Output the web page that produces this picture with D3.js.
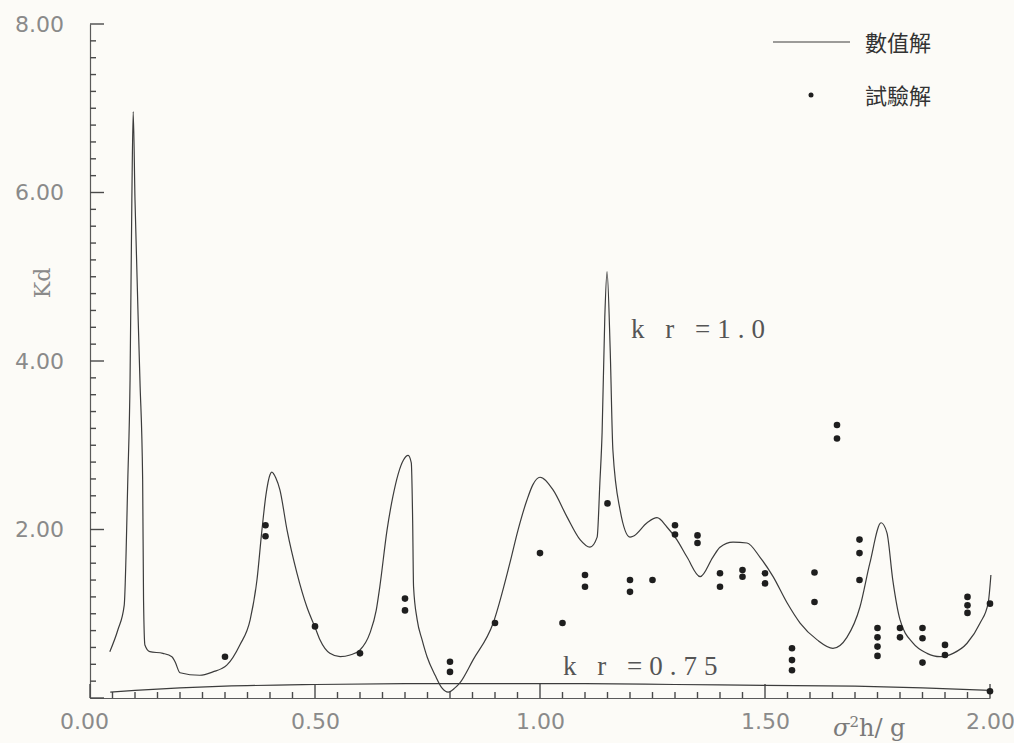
<!DOCTYPE html>
<html lang="zh-Hant">
<head>
    <meta charset="UTF-8">
    <title>Kd - σ²h/g</title>
    <script src="https://d3js.org/d3.v7.min.js"></script>
    <style>
        body {
            margin: 0;
            background: #fcfbf7;
            font-family: "DejaVu Sans", sans-serif;
        }
        .axis path, .axis line {
            stroke: #5a5a5a;
            stroke-width: 1.2;
        }
        .axis text {
            fill: #8a8a8a;
            font-size: 22px;
            font-family: "DejaVu Sans", sans-serif;
        }
        .curve {
            fill: none;
            stroke: #3c3c3c;
            stroke-width: 1.2;
        }
        .dot {
            fill: #1e1e1e;
        }
    </style>
</head>
<body>
    <svg width="1014" height="743"></svg>
    <script>
        // 數值解 k r = 1.0
        const kr1X = [0.044, 0.062, 0.076, 0.084, 0.089, 0.093, 0.096, 0.100, 0.111, 0.117, 0.119, 0.122, 0.133,
            0.162, 0.182, 0.189, 0.200, 0.244, 0.273, 0.304, 0.333, 0.356, 0.371, 0.382, 0.391, 0.400, 0.404,
            0.413, 0.422, 0.438, 0.460, 0.482, 0.500, 0.511, 0.533, 0.556, 0.578, 0.600, 0.622, 0.636, 0.644,
            0.660, 0.673, 0.696, 0.707, 0.714, 0.717, 0.719, 0.727, 0.738, 0.749, 0.767, 0.782, 0.796, 0.811,
            0.822, 0.851, 0.896, 0.933, 0.951, 0.971, 0.984, 1.000, 1.029, 1.060, 1.089, 1.111, 1.127, 1.133,
            1.138, 1.144, 1.149, 1.156, 1.162, 1.178, 1.200, 1.207, 1.238, 1.260, 1.282, 1.304, 1.327, 1.356,
            1.384, 1.400, 1.429, 1.460, 1.489, 1.518, 1.549, 1.578, 1.616, 1.651, 1.682, 1.711, 1.733, 1.758,
            1.771, 1.784, 1.800, 1.829, 1.860, 1.889, 1.918, 1.949, 1.978, 1.996, 2.002];
        const kr1Y = [0.55, 0.81, 1.10, 2.59, 3.77, 5.91, 6.96, 5.91, 3.77, 2.59, 1.16, 0.63, 0.55,
            0.53, 0.49, 0.43, 0.30, 0.27, 0.31, 0.39, 0.63, 0.93, 1.40, 1.99, 2.41, 2.65, 2.68,
            2.61, 2.47, 1.99, 1.48, 1.08, 0.84, 0.69, 0.53, 0.49, 0.51, 0.57, 0.77, 1.04, 1.32,
            1.99, 2.39, 2.82, 2.88, 2.79, 2.11, 1.32, 0.93, 0.69, 0.49, 0.27, 0.12, 0.07, 0.12,
            0.18, 0.45, 0.89, 1.60, 1.99, 2.35, 2.53, 2.62, 2.47, 2.15, 1.88, 1.79, 1.91, 2.55,
            3.15, 4.52, 5.06, 4.13, 2.94, 2.23, 1.91, 1.92, 2.08, 2.14, 2.03, 1.88, 1.67, 1.44,
            1.67, 1.79, 1.85, 1.84, 1.67, 1.44, 1.13, 0.89, 0.69, 0.59, 0.72, 1.08, 1.60, 2.08,
            1.96, 1.40, 0.93, 0.65, 0.53, 0.49, 0.53, 0.65, 0.89, 1.13, 1.46];

        // 數值解 k r = 0.75
        const kr075X = [0.045, 0.10, 0.20, 0.30, 0.50, 0.70, 0.90, 1.10, 1.30, 1.50, 1.70, 1.85, 2.00];
        const kr075Y = [0.07, 0.09, 0.12, 0.14, 0.16, 0.17, 0.17, 0.17, 0.16, 0.15, 0.14, 0.12, 0.09];

        // 試驗解
        const expX = [0.30, 0.39, 0.39, 0.50, 0.60, 0.70, 0.70, 0.80, 0.80, 0.90, 1.00, 1.05,
            1.10, 1.10, 1.15, 1.20, 1.20, 1.25, 1.30, 1.30, 1.35, 1.35, 1.40, 1.40, 1.45, 1.45,
            1.50, 1.50, 1.56, 1.56, 1.56, 1.61, 1.61, 1.66, 1.66, 1.71, 1.71, 1.71,
            1.75, 1.75, 1.75, 1.75, 1.80, 1.80, 1.85, 1.85, 1.85, 1.90, 1.90,
            1.95, 1.95, 1.95, 2.00, 2.00];
        const expY = [0.49, 2.05, 1.92, 0.85, 0.53, 1.18, 1.04, 0.43, 0.31, 0.89, 1.72, 0.89,
            1.46, 1.32, 2.31, 1.40, 1.26, 1.40, 2.05, 1.94, 1.93, 1.84, 1.48, 1.32, 1.52, 1.44,
            1.48, 1.36, 0.59, 0.45, 0.33, 1.49, 1.14, 3.24, 3.08, 1.88, 1.72, 1.40,
            0.83, 0.72, 0.61, 0.50, 0.83, 0.72, 0.83, 0.71, 0.42, 0.63, 0.51,
            1.20, 1.10, 1.01, 1.12, 0.08];

        const xMajor = [0, 0.5, 1.0, 1.5, 2.0];
        const yMajor = [2, 4, 6, 8];
        const xMinor = d3.range(0, 41).map(i => i * 0.05);
        const yMinor = d3.range(0, 41).map(i => i * 0.2);

        const svg = d3.select("svg");

        const x = d3.scaleLinear().domain([0, 2]).range([90, 990]);
        const y = d3.scaleLinear().domain([0, 8]).range([698, 24]);

        // trục x, trục y: đường trục và nhãn
        svg.append("g")
            .attr("class", "axis")
            .attr("transform", `translate(0,${y(0)})`)
            .call(d3.axisBottom(x).tickValues(xMajor).tickSize(0).tickPadding(15)
                .tickFormat(d3.format(".2f")))
            .call(g => g.selectAll("text").filter(d => d === 0).attr("dx", -6));

        svg.append("g")
            .attr("class", "axis")
            .attr("transform", `translate(${x(0)},0)`)
            .call(d3.axisLeft(y).tickValues(yMajor).tickSize(0).tickPadding(26)
                .tickFormat(d3.format(".2f")));

        // vạch chia: trục x hướng lên, trục y hướng sang phải
        svg.append("g").selectAll("rect")
            .data(xMinor)
            .enter().append("rect")
            .attr("x", d => x(d) - 0.7)
            .attr("y", (d, i) => y(0) - (i % 10 === 0 ? 14 : 6))
            .attr("width", 1.4)
            .attr("height", (d, i) => (i % 10 === 0 ? 14 : 6))
            .attr("fill", "#4a4a4a");

        svg.append("g").selectAll("rect")
            .data(yMinor)
            .enter().append("rect")
            .attr("x", x(0))
            .attr("y", d => y(d) - 0.7)
            .attr("width", (d, i) => (i % 10 === 0 ? 14 : 6))
            .attr("height", 1.4)
            .attr("fill", "#4a4a4a");

        const line = d3.line()
            .x(d => x(d[0]))
            .y(d => y(d[1]))
            .curve(d3.curveMonotoneX);

        svg.append("path")
            .datum(d3.zip(kr1X, kr1Y))
            .attr("class", "curve")
            .attr("d", line);

        svg.append("path")
            .datum(d3.zip(kr075X, kr075Y))
            .attr("class", "curve")
            .attr("d", line);

        svg.selectAll(".dot")
            .data(d3.zip(expX, expY))
            .enter().append("circle")
            .attr("class", "dot")
            .attr("cx", d => x(d[0]))
            .attr("cy", d => y(d[1]))
            .attr("r", 3.3);

        // nhãn trục
        svg.append("text")
            .attr("transform", "translate(50,283) rotate(-90)")
            .attr("text-anchor", "middle")
            .attr("fill", "#8a8a8a")
            .style("font-family", "'DejaVu Serif', serif")
            .style("font-size", "22px")
            .text("Kd");

        const xl = svg.append("text")
            .attr("x", 833)
            .attr("y", 736)
            .attr("fill", "#7a7a7a")
            .style("font-family", "'DejaVu Serif', serif")
            .style("font-size", "24px");
        xl.append("tspan").style("font-style", "italic").text("σ");
        xl.append("tspan").attr("dy", -9).style("font-size", "15px").text("2");
        xl.append("tspan").attr("dy", 9).text("h/ g");

        svg.append("text")
            .attr("x", 631)
            .attr("y", 338)
            .attr("fill", "#555")
            .style("font-family", "'Liberation Serif', serif")
            .style("font-size", "27px")
            .style("letter-spacing", "7px")
            .text("k r =1.0");

        svg.append("text")
            .attr("x", 563)
            .attr("y", 675)
            .attr("fill", "#555")
            .style("font-family", "'Liberation Serif', serif")
            .style("font-size", "27px")
            .style("letter-spacing", "7px")
            .text("k r =0.75");

        // chú thích
        const legend = svg.append("g").style("font-family", "'Noto Sans CJK TC', sans-serif");
        legend.append("line")
            .attr("x1", 773).attr("x2", 850).attr("y1", 42).attr("y2", 42)
            .attr("stroke", "#3c3c3c").attr("stroke-width", 1.2);
        legend.append("text")
            .attr("x", 865).attr("y", 51)
            .attr("fill", "#333").style("font-size", "22px")
            .text("數值解");
        legend.append("circle")
            .attr("cx", 811).attr("cy", 95).attr("r", 2.5)
            .attr("fill", "#1e1e1e");
        legend.append("text")
            .attr("x", 865).attr("y", 104)
            .attr("fill", "#333").style("font-size", "22px")
            .text("試驗解");
    </script>
</body>
</html>
